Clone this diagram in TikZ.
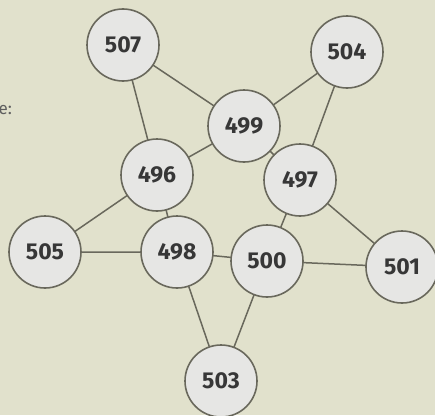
\documentclass[tikz,border=0pt]{standalone}
\usepackage{fontspec}
\setmainfont{Fira Sans}
\definecolor{bg}{RGB}{225,225,204}
\definecolor{nodefill}{RGB}{230,230,228}
\definecolor{edge}{RGB}{105,104,92}
\definecolor{txt}{RGB}{55,55,55}
\begin{document}
\begin{tikzpicture}[x=1pt,y=-1pt,
  vtx/.style={circle,draw=edge,line width=1.6pt,fill=nodefill,minimum size=72pt,inner sep=0pt,
    text=txt,font=\fontsize{23}{25}\selectfont\bfseries},
  link/.style={draw=edge,line width=1.5pt}]
\fill[bg] (0,0) rectangle (435,415);
\useasboundingbox (0,0) rectangle (435,415);
\node[text=txt!80,font=\fontsize{17}{19}\selectfont,anchor=west] (lbl) at (-5,110) {e:};
\coordinate (p507) at (123,45);
\coordinate (p504) at (347,52);
\coordinate (p499) at (244,126);
\coordinate (p496) at (157,175);
\coordinate (p497) at (300,180);
\coordinate (p505) at (45,252);
\coordinate (p498) at (177,252);
\coordinate (p500) at (267,261);
\coordinate (p501) at (402,267);
\coordinate (p503) at (221,381);
\path[link] (p507) -- (p499) (p507) -- (p496) (p504) -- (p499) (p504) -- (p497)
  (p499) -- (p496) (p499) -- (p497) (p496) -- (p505) (p496) -- (p498)
  (p497) -- (p500) (p497) -- (p501) (p505) -- (p498) (p498) -- (p500)
  (p500) -- (p501) (p498) -- (p503) (p500) -- (p503);
\node[vtx] (n507) at (p507) {507};
\node[vtx] (n504) at (p504) {504};
\node[vtx] (n499) at (p499) {499};
\node[vtx] (n496) at (p496) {496};
\node[vtx] (n497) at (p497) {497};
\node[vtx] (n505) at (p505) {505};
\node[vtx] (n498) at (p498) {498};
\node[vtx] (n500) at (p500) {500};
\node[vtx] (n501) at (p501) {501};
\node[vtx] (n503) at (p503) {503};
\end{tikzpicture}
\end{document}
